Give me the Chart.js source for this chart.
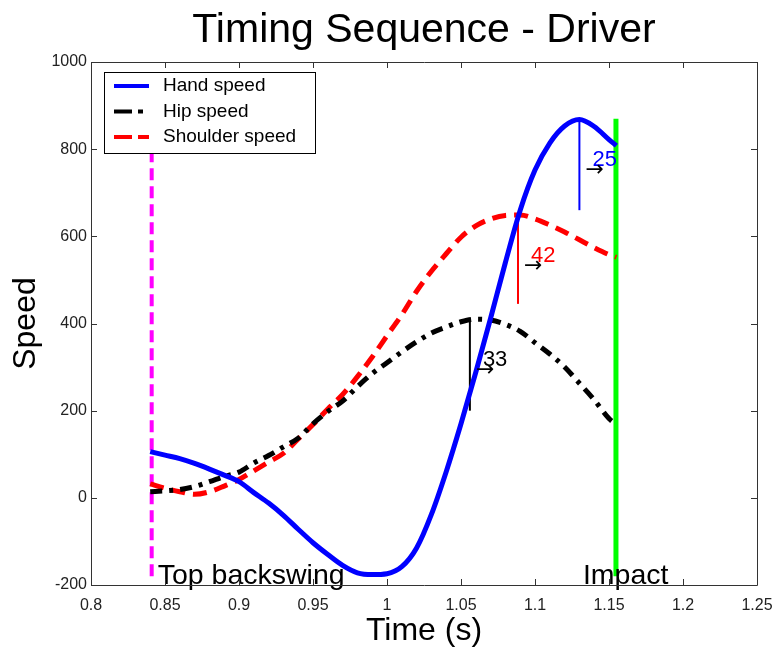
<!DOCTYPE html>
<html>
<head>
<meta charset="utf-8">
<script src="https://cdn.jsdelivr.net/npm/chart.js@4.4.1/dist/chart.umd.min.js"></script>
<style>
  html, body { margin: 0; padding: 0; background: #fff; }
  #wrap { width: 778px; height: 650px; }
</style>
</head>
<body>
<div id="wrap"><canvas id="timing"></canvas></div>
<script>
const time = [0.84, 0.85, 0.86, 0.87, 0.88, 0.89, 0.90, 0.91, 0.92, 0.93, 0.94, 0.95, 0.96, 0.97, 0.98, 0.99,
    1.00, 1.01, 1.02, 1.03, 1.04, 1.05, 1.06, 1.07, 1.08, 1.09, 1.10, 1.11, 1.12, 1.13, 1.14, 1.15, 1.155];
const handSpeed = [106, 98, 90, 79, 66, 52, 37, 12, -12, -40, -72, -103, -130, -155, -172, -176,
    -174, -158, -115, -38, 60, 170, 288, 412, 540, 660, 752, 814, 853, 868, 852, 822, 808];
const hipSpeed = [14, 16, 19, 26, 37, 49, 59, 80, 97, 117, 137, 170, 198, 222, 255, 285,
    310, 335, 358, 378, 392, 404, 410, 408, 398, 382, 356, 330, 300, 263, 225, 182, 168];
const shoulderSpeed = [32, 22, 14, 8, 14, 27, 42, 62, 82, 102, 135, 168, 204, 237, 278, 323,
    372, 420, 474, 520, 560, 598, 624, 640, 648, 649, 640, 626, 610, 592, 574, 558, 552];

const xTicks = [0.8, 0.85, 0.9, 0.95, 1, 1.05, 1.1, 1.15, 1.2, 1.25];
const yTicks = [-200, 0, 200, 400, 600, 800, 1000];

const topBackswing = 0.841;
const impact = 1.1547;
const eventSpan = [-180, 850];
const impactSpan = [-180, 870];

// lag markers: time, speed range, label (ms)
const lagTimes = [1.130, 1.0885, 1.056];
const lagLow = [660, 445, 200];
const lagHigh = [869, 649, 410];
const lagLabels = ['25', '42', '33'];
const lagColors = ['#0000ff', '#ff0000', '#000000'];

const pts = (ys) => time.map((t, i) => ({ x: t, y: ys[i] }));
const vline = (x, span) => [{ x, y: span[0] }, { x, y: span[1] }];

const base = { pointRadius: 0, fill: false, borderCapStyle: 'butt' };
const FONT = '"Liberation Sans", Arial, sans-serif';

const datasets = [
    { ...base, label: 'Hand speed', data: pts(handSpeed), borderColor: '#0000ff', borderWidth: 5, cubicInterpolationMode: 'monotone' },
    { ...base, label: 'Hip speed', data: pts(hipSpeed), borderColor: '#000000', borderWidth: 5, borderDash: [12, 7, 4, 7], cubicInterpolationMode: 'monotone' },
    { ...base, label: 'Shoulder speed', data: pts(shoulderSpeed), borderColor: '#ff0000', borderWidth: 5, borderDash: [14, 8], cubicInterpolationMode: 'monotone' },
    { ...base, label: 'top', data: vline(topBackswing, eventSpan), borderColor: '#ff00ff', borderWidth: 4, borderDash: [12, 6] },
    { ...base, label: 'impact', data: vline(impact, impactSpan), borderColor: '#00ff00', borderWidth: 5 },
];
lagTimes.forEach((t, i) => {
    datasets.push({ ...base, label: 'lag' + i, data: vline(t, [lagLow[i], lagHigh[i]]), borderColor: lagColors[i], borderWidth: 2 });
});

const frame = {
    id: 'frame',
    afterDatasetsDraw(chart) {
        const { ctx, chartArea: a, scales: { x, y } } = chart;
        ctx.save();

        // lag labels with arrows
        lagTimes.forEach((t, i) => {
            const px = x.getPixelForValue(t);
            const py = y.getPixelForValue(lagHigh[i]);
            ctx.fillStyle = lagColors[i];
            ctx.font = '22px ' + FONT;
            ctx.textBaseline = 'alphabetic';
            ctx.textAlign = 'left';
            ctx.fillText(lagLabels[i], px + 13, py + 47);
            ctx.fillStyle = '#000';
            ctx.font = '22px "DejaVu Sans", sans-serif';
            ctx.fillText('\u2192', px + 6, py + 57);
        });

        // event labels
        ctx.fillStyle = '#000';
        ctx.font = '28.5px ' + FONT;
        ctx.fillText('Top backswing', x.getPixelForValue(topBackswing) + 6, a.bottom - 1);
        ctx.fillText('Impact', x.getPixelForValue(impact) - 33, a.bottom - 1);

        // box and inward ticks
        ctx.strokeStyle = '#333';
        ctx.lineWidth = 1;
        ctx.beginPath();
        ctx.rect(a.left + 0.5, a.top + 0.5, a.right - a.left, a.bottom - a.top);
        xTicks.forEach(v => {
            const px = Math.round(x.getPixelForValue(v)) + 0.5;
            ctx.moveTo(px, a.bottom); ctx.lineTo(px, a.bottom - 6);
            ctx.moveTo(px, a.top); ctx.lineTo(px, a.top + 6);
        });
        yTicks.forEach(v => {
            const py = Math.round(y.getPixelForValue(v)) + 0.5;
            ctx.moveTo(a.left, py); ctx.lineTo(a.left + 6, py);
            ctx.moveTo(a.right, py); ctx.lineTo(a.right - 6, py);
        });
        ctx.stroke();

        // legend
        const lx = a.left + 13, ly = a.top + 10, lw = 211, lh = 81;
        ctx.fillStyle = '#fff';
        ctx.fillRect(lx, ly, lw, lh);
        ctx.strokeStyle = '#000';
        ctx.strokeRect(lx + 0.5, ly + 0.5, lw, lh);
        ctx.font = '19px ' + FONT;
        ctx.textBaseline = 'middle';
        datasets.slice(0, 3).forEach((d, i) => {
            const ry = ly + 14 + i * 25.5;
            ctx.strokeStyle = d.borderColor;
            ctx.lineWidth = 4;
            ctx.setLineDash(i === 1 ? [18, 6, 5, 20] : (i === 2 ? [18, 6] : []));
            ctx.beginPath();
            ctx.moveTo(lx + 10, ry); ctx.lineTo(lx + 45, ry);
            ctx.stroke();
            ctx.setLineDash([]);
            ctx.fillStyle = '#000';
            ctx.fillText(d.label, lx + 59, ry);
        });
        ctx.restore();
    },
};

new Chart(document.getElementById('timing'), {
    type: 'line',
    data: { datasets },
    plugins: [frame],
    options: {
        responsive: true,
        maintainAspectRatio: false,
        animation: false,
        layout: { padding: { left: 0, right: 21, top: 0, bottom: 0 } },
        plugins: {
            legend: { display: false },
            tooltip: { enabled: false },
            title: {
                display: true,
                fullSize: false,
                text: 'Timing Sequence - Driver',
                color: '#000',
                font: { family: FONT, size: 41, weight: 'normal' },
                padding: { top: 6, bottom: 6.8 },
            },
        },
        scales: {
            x: {
                type: 'linear',
                min: 0.8,
                max: 1.25,
                afterBuildTicks: s => { s.ticks = xTicks.map(v => ({ value: v })); },
                afterFit: s => { s.height = 65; s.paddingLeft = 0; s.paddingRight = 0; },
                grid: { display: false, drawTicks: false },
                border: { display: false },
                ticks: {
                    color: '#222',
                    padding: 11,
                    maxRotation: 0,
                    font: { family: FONT, size: 16 },
                    callback: v => String(v),
                },
                title: {
                    display: true,
                    text: 'Time (s)',
                    color: '#000',
                    font: { family: FONT, size: 32 },
                    padding: { top: 0, bottom: 0 },
                },
            },
            y: {
                min: -200,
                max: 1000,
                afterBuildTicks: s => { s.ticks = yTicks.map(v => ({ value: v })); },
                afterFit: s => { s.width = 91; s.paddingTop = 0; s.paddingBottom = 0; },
                grid: { display: false, drawTicks: false },
                border: { display: false },
                ticks: {
                    color: '#222',
                    padding: 4,
                    font: { family: FONT, size: 16 },
                    callback: v => String(v),
                },
                title: {
                    display: true,
                    text: 'Speed',
                    color: '#000',
                    font: { family: FONT, size: 32 },
                    padding: { top: 7, bottom: 0 },
                },
            },
        },
    },
});
</script>
</body>
</html>
